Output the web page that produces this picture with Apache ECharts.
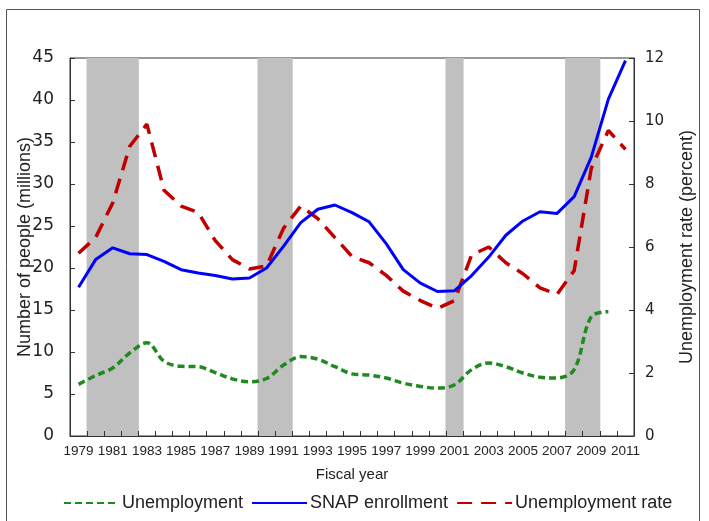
<!DOCTYPE html>
<html>
<head>
<meta charset="utf-8">
<script src="https://cdn.jsdelivr.net/npm/echarts@6/dist/echarts.min.js"></script>
<style>
html,body{margin:0;padding:0;background:#fff;}
#chart{width:709px;height:521px;}
</style>
</head>
<body>
<div id="chart"></div>
<script>
var years = ['1979','1980','1981','1982','1983','1984','1985','1986','1987','1988','1989','1990','1991','1992','1993','1994','1995','1996','1997','1998','1999','2000','2001','2002','2003','2004','2005','2006','2007','2008','2009','2010','2011'];
var snapEnrollment = [17.7,21.0,22.4,21.7,21.6,20.8,19.8,19.4,19.1,18.7,18.8,20.0,22.6,25.4,27.0,27.5,26.6,25.5,22.9,19.8,18.2,17.2,17.3,19.1,21.3,23.9,25.6,26.7,26.5,28.5,33.2,40.1,44.7];
var unemployment = [6.15,7.2,8.1,9.9,11.1,8.9,8.3,8.25,7.55,6.8,6.45,6.85,8.45,9.45,9.15,8.25,7.4,7.25,6.9,6.3,5.9,5.7,6.1,7.9,8.7,8.25,7.5,7.0,6.9,7.9,14.2,14.8,null];
var unemploymentRate = [5.8,6.3,7.4,9.2,9.9,7.8,7.3,7.1,6.2,5.6,5.3,5.4,6.6,7.3,6.9,6.3,5.7,5.5,5.1,4.6,4.3,4.05,4.3,5.75,6.0,5.5,5.15,4.7,4.5,5.25,8.5,9.7,9.1];
var recessionYears = ['1980','1981','1982','1990','1991','2001','2008','2009'];
var leftTicks = {min:0, max:45, interval:5};
var rightTicks = {min:0, max:12, interval:2};

var recessionData = years.map(function(y){ return recessionYears.indexOf(y) >= 0 ? leftTicks.max : null; });

var FONT = "'Liberation Sans', Arial, sans-serif";
var chart = echarts.init(document.getElementById('chart'), null, {renderer:'canvas'});
chart.setOption({
  animation:false,
  backgroundColor:'#ffffff',
  textStyle:{fontFamily:FONT},
  graphic:[{type:'rect', shape:{x:6.5,y:9.5,width:693,height:520}, style:{fill:'none', stroke:'#555', lineWidth:1}, silent:true, z:-1}],
  grid:{left:70, right:75, top:58, bottom:85, show:true, borderColor:'#333', borderWidth:1, backgroundColor:'transparent', containLabel:false, outerBoundsMode:'none'},
  legend:{
    data:['Unemployment','SNAP enrollment','Unemployment rate'],
    left:58, top:489, itemWidth:55, itemHeight:14, itemGap:8,
    itemStyle:{opacity:0},
    textStyle:{fontSize:18, color:'#222', fontFamily:FONT, padding:[0,0,0,-2]}
  },
  xAxis:{
    type:'category', data:years, boundaryGap:true, z:10,
    name:'Fiscal year', nameLocation:'middle', nameGap:31, nameMoveOverlap:false,
    nameTextStyle:{fontSize:15, color:'#222', fontFamily:FONT},
    axisLine:{lineStyle:{color:'#333', width:1}},
    axisTick:{show:true, inside:true, length:5, interval:0, lineStyle:{color:'#333'}},
    axisLabel:{interval:1, fontSize:13.5, color:'#222', margin:8, fontFamily:FONT},
    splitLine:{show:false}, splitArea:{show:false}
  },
  yAxis:[{
    type:'value', min:leftTicks.min, max:leftTicks.max, interval:leftTicks.interval, z:10,
    name:'Number of people (millions)', nameLocation:'middle', nameGap:36, nameRotate:90, nameMoveOverlap:false,
    nameTextStyle:{fontSize:18, color:'#222', fontFamily:FONT},
    axisLine:{show:true, lineStyle:{color:'#333'}},
    axisTick:{show:true, inside:true, length:5, lineStyle:{color:'#333'}},
    axisLabel:{fontSize:17, color:'#222', margin:16, fontFamily:"'DejaVu Sans', sans-serif"},
    splitLine:{show:false}
  },{
    type:'value', min:rightTicks.min, max:rightTicks.max, interval:rightTicks.interval, z:10, position:'right',
    name:'Unemployment rate (percent)', nameLocation:'middle', nameGap:44, nameRotate:90, nameMoveOverlap:false,
    nameTextStyle:{fontSize:18, color:'#222', fontFamily:FONT},
    axisLine:{show:true, lineStyle:{color:'#333'}},
    axisTick:{show:true, inside:true, length:5, lineStyle:{color:'#333'}},
    axisLabel:{fontSize:15, color:'#222', margin:11, fontFamily:"'DejaVu Sans', sans-serif"},
    splitLine:{show:false}
  }],
  series:[{
    name:'Recession', type:'bar', data:recessionData, yAxisIndex:0,
    barWidth:'106%', barCategoryGap:'0%', silent:true,
    itemStyle:{color:'#c0c0c0'}, z:1
  },{
    name:'Unemployment', type:'line', data:unemployment, yAxisIndex:0,
    symbol:'none', smooth:0.35, z:3,
    lineStyle:{color:'#208a20', width:3.5, type:[7,4]},
    itemStyle:{color:'#208a20'}
  },{
    name:'SNAP enrollment', type:'line', data:snapEnrollment, yAxisIndex:0,
    symbol:'none', z:4,
    lineStyle:{color:'#0000ff', width:3},
    itemStyle:{color:'#0000ff'}
  },{
    name:'Unemployment rate', type:'line', data:unemploymentRate, yAxisIndex:1,
    symbol:'none', z:3,
    lineStyle:{color:'#c00000', width:3.5, type:[15,9]},
    itemStyle:{color:'#c00000'}
  }]
});
</script>
</body>
</html>
